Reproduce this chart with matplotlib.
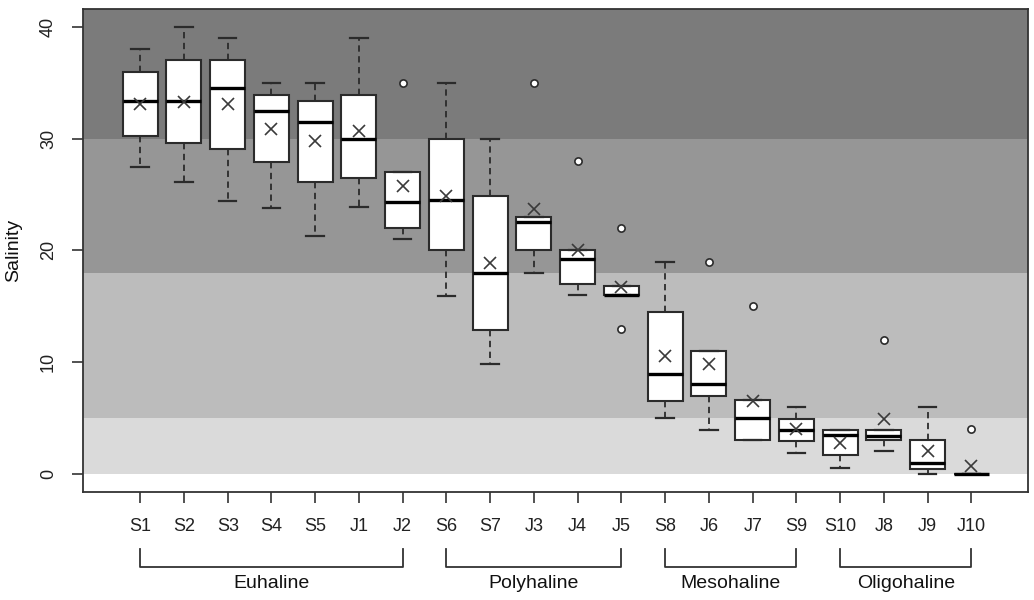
import numpy as np
import matplotlib
matplotlib.use("Agg")
import matplotlib.pyplot as plt
import matplotlib.transforms as mtransforms

stations = ["S1", "S2", "S3", "S4", "S5", "J1", "J2", "S6", "S7", "J3",
            "J4", "J5", "S8", "J6", "J7", "S9", "S10", "J8", "J9", "J10"]
whishi = [38, 40, 39, 35, 35, 39, 27, 35, 30, 23, 20, 16.8, 19, 11, 6.6, 6, 3.9, 3.9, 6, 0]
q3 = [36, 37, 37, 33.9, 33.4, 33.9, 27, 30, 24.9, 23, 20, 16.8, 14.5, 11, 6.6, 4.9, 3.9, 3.9, 3, 0]
med = [33.4, 33.4, 34.5, 32.5, 31.5, 30, 24.3, 24.5, 18, 22.5, 19.2, 16, 8.9, 8, 5, 3.9, 3.5, 3.4, 1, 0]
q1 = [30.2, 29.6, 29.1, 27.9, 26.1, 26.5, 22, 20, 12.9, 20, 17, 16, 6.5, 7, 3, 2.9, 1.7, 3, 0.4, 0]
whislo = [27.5, 26.1, 24.4, 23.8, 21.3, 23.9, 21, 15.9, 9.8, 18, 16, 16, 5, 3.9, 3, 1.9, 0.5, 2, 0, 0]
means = [33.1, 33.3, 33.1, 30.9, 29.8, 30.7, 25.8, 24.9, 18.9, 23.7, 20, 16.7, 10.5, 9.8, 6.5, 4, 2.8, 4.9, 2, 0.7]
outliers = [[], [], [], [], [], [], [35], [], [], [35],
            [28], [22, 13], [], [19], [15], [], [], [12], [], [4]]

# salinity zones (lower bound, upper bound)
zone_edges = [0, 5, 18, 30, 45]
zone_colors = ["#dadada", "#bcbcbc", "#969696", "#7b7b7b"]

groups = ["Euhaline", "Polyhaline", "Mesohaline", "Oligohaline"]
group_first = ["S1", "S6", "S8", "S10"]
group_last = ["J2", "J5", "S9", "J10"]

plt.rcParams["font.family"] = ["Liberation Sans", "DejaVu Sans"]

fig = plt.figure(figsize=(10.34, 6.0), dpi=100)
ax = fig.add_axes([0.0806, 0.1805, 0.9139, 0.8045])

for lo, hi, c in zip(zone_edges[:-1], zone_edges[1:], zone_colors):
    ax.axhspan(lo, hi, color=c, lw=0, zorder=0)

stats = []
for i in range(len(stations)):
    stats.append(dict(label=stations[i], med=med[i], q1=q1[i], q3=q3[i],
                      whislo=whislo[i], whishi=whishi[i], fliers=outliers[i]))

pos = np.arange(1, len(stations) + 1)
edge = "#2b2b2b"
ax.bxp(stats, positions=pos, widths=0.8, patch_artist=True, capwidths=0.4,
       boxprops=dict(facecolor="white", edgecolor=edge, linewidth=1.5),
       medianprops=dict(color="black", linewidth=2.4, solid_capstyle="butt"),
       whiskerprops=dict(color=edge, linewidth=1.3, linestyle=(0, (3.5, 2.5))),
       capprops=dict(color=edge, linewidth=1.6),
       flierprops=dict(marker="o", markersize=5.2, markerfacecolor="white",
                       markeredgecolor=edge, markeredgewidth=1.2),
       zorder=3)
ax.plot(pos, means, linestyle="none", marker="x", markersize=8,
        markeredgewidth=1.2, color="#3a3a3a", zorder=4)

ax.set_xlim(-0.3, 21.3)
ax.set_ylim(-1.6, 41.6)
ax.set_yticks([0, 10, 20, 30, 40])
ax.set_xticks(pos)
ax.set_xticklabels(stations)
ax.tick_params(axis="both", length=8, width=1.2, color="#333333",
               labelsize=13, labelcolor="#222222", pad=11)
for lab in ax.get_yticklabels():
    lab.set_rotation(90)
    lab.set_va("center")
for s in ax.spines.values():
    s.set_color("#333333")
    s.set_linewidth(1.3)

ax.set_ylabel("Salinity", fontsize=14, color="#111111")
ax.yaxis.set_label_coords(-0.065, 0.5)

trans = mtransforms.blended_transform_factory(ax.transData, ax.transAxes)
for name, a, b in zip(groups, group_first, group_last):
    x0 = stations.index(a) + 1
    x1 = stations.index(b) + 1
    ax.plot([x0, x0, x1, x1], [-0.119, -0.155, -0.155, -0.119], color="#333333",
            lw=1.3, transform=trans, clip_on=False)
    ax.text((x0 + x1) / 2, -0.19, name, transform=trans, ha="center", va="center",
            fontsize=14, color="#111111")

fig.savefig("out.png", dpi=100, facecolor="white")
